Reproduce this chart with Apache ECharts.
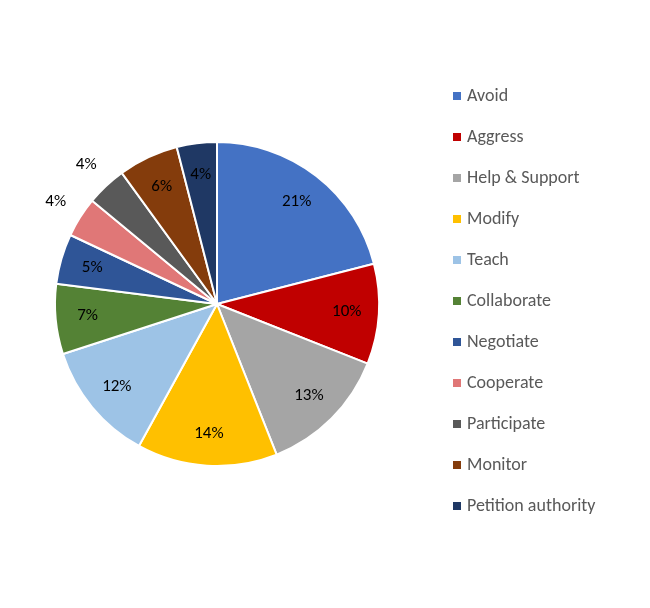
<!DOCTYPE html>
<html><head><meta charset="utf-8">
<script src="https://cdn.jsdelivr.net/npm/echarts@6/dist/echarts.min.js"></script>
<style>html,body{margin:0;padding:0;background:#fff}#c{width:650px;height:608px}</style>
</head><body><div id="c"></div>
<script>
const categories = ["Avoid","Aggress","Help & Support","Modify","Teach","Collaborate","Negotiate","Cooperate","Participate","Monitor","Petition authority"];
const values = [21,10,13,14,12,7,5,4,4,6,4];
const colors = ["#4472C4","#C00000","#A5A5A5","#FFC000","#9DC3E6","#548235","#2F5597","#E07777","#595959","#843C0C","#1F3864"];
const outsideLabels = ["Cooperate","Participate"];
const total = values.reduce((a,b)=>a+b,0);
const fmt = p => Math.round(p.value/total*100)+'%';
const center = [217,304];
const chart = echarts.init(document.getElementById('c'));
const labelSeries = (r, showFn) => ({
  type:'pie', radius:[0,r], center, startAngle:90, clockwise:true, silent:true, z:5,
  itemStyle:{color:'rgba(0,0,0,0)',borderWidth:0}, labelLine:{show:false}, legendHoverLink:false,
  data: categories.map((n,i)=>({name:n,value:values[i],label:{show:showFn(n),position:'inside',formatter:fmt,color:'#000',fontSize:17,fontFamily:'Calibri, Carlito, "Liberation Sans", sans-serif'}}))
});
chart.setOption({
  animation:false,
  color:colors,
  legend:{orient:'vertical', left:446, top:82, itemGap:23, itemWidth:10, itemHeight:10, icon:'rect',
    textStyle:{fontSize:18,color:'#595959',fontFamily:'Calibri, Carlito, "Liberation Sans", sans-serif'},
    data:categories},
  series:[
    {type:'pie', radius:[0,162], center, startAngle:90, clockwise:true,
     itemStyle:{borderColor:'#fff',borderWidth:2}, label:{show:false}, labelLine:{show:false},
     data: categories.map((n,i)=>({name:n,value:values[i]}))},
    labelSeries(254, n=>!outsideLabels.includes(n)),
    labelSeries(376, n=>outsideLabels.includes(n))
  ]
});
</script></body></html>
